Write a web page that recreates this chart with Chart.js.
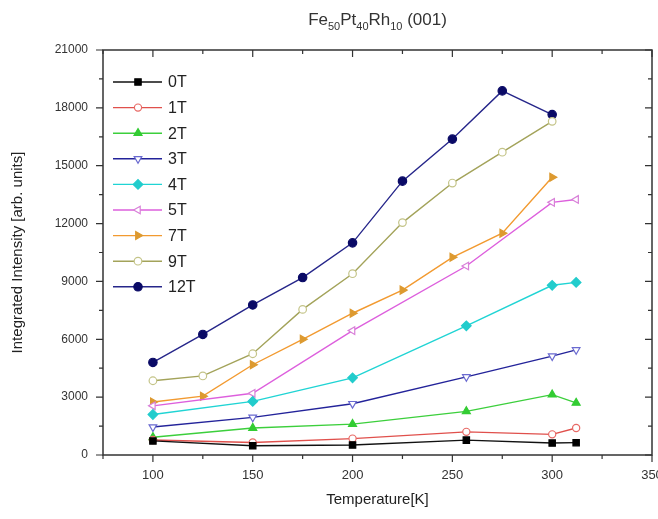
<!DOCTYPE html>
<html><head><meta charset="utf-8">
<script src="https://cdn.jsdelivr.net/npm/chart.js@4/dist/chart.umd.min.js"></script>
<style>html,body{margin:0;padding:0;background:#fff}</style>
</head><body>
<canvas id="c" width="658" height="519"></canvas>
<script>
// ---- data ----
const seriesLabels = ['0T','1T','2T','3T','4T','5T','7T','9T','12T'];
const tempsLow  = [100,150,200,257,300,312];
const tempsHigh = [100,125,150,175,200,225,250,275,300];
const v0T  = [730,480,520,770,620,640];
const v1T  = [780,650,850,1200,1070,1400];
const v2T  = [920,1400,1600,2260,3130,2700];
const v3T  = [1450,1950,2660,4050,5130,5450];
const v4T  = [2100,2780,4000,6700,8800,8950];
const v5T  = [2550,3200,6450,9800,13100,13250];
const v7T  = [2750,3050,4680,6000,7350,8550,10250,11500,14400];
const v9T  = [3850,4100,5250,7550,9400,12050,14100,15700,17300];
const v12T = [4800,6250,7780,9200,11000,14200,16380,18880,17650];
const xTicks = [100,150,200,250,300,350];
const yTicks = [0,3000,6000,9000,12000,15000,18000,21000];

const FONT = "'Liberation Sans', Arial, sans-serif";
const pts = (xs, ys) => xs.map((x, i) => ({x, y: ys[i]}));

const styles = [
  {line:'#111111', fill:'#000000', stroke:'#000000', ps:'rect', rot:0, r:4.5},
  {line:'#e0504c', fill:'#ffffff', stroke:'#e86a66', ps:'circle', rot:0, r:3.6},
  {line:'#3ccf3c', fill:'#33cc33', stroke:'#33cc33', ps:'triangle', rot:0, r:4.6},
  {line:'#23239a', fill:'#ffffff', stroke:'#6a6ad0', ps:'triangle', rot:180, r:4.4},
  {line:'#20d4d4', fill:'#22cccc', stroke:'#22cccc', ps:'rectRot', rot:0, r:4.8},
  {line:'#dd5fdd', fill:'#ffffff', stroke:'#d880d8', ps:'triangle', rot:270, r:4.4},
  {line:'#f29a30', fill:'#dd9a30', stroke:'#dd9a30', ps:'triangle', rot:90, r:4.6},
  {line:'#a3a35a', fill:'#ffffff', stroke:'#c4c488', ps:'circle', rot:0, r:3.8},
  {line:'#26268a', fill:'#0a0a66', stroke:'#0a0a66', ps:'circle', rot:0, r:4.2}
];
const seriesData = [
  pts(tempsLow, v0T), pts(tempsLow, v1T), pts(tempsLow, v2T), pts(tempsLow, v3T),
  pts(tempsLow, v4T), pts(tempsLow, v5T), pts(tempsHigh, v7T), pts(tempsHigh, v9T),
  pts(tempsHigh, v12T)
];

const datasets = seriesLabels.map((lab, i) => ({
  label: lab,
  data: seriesData[i],
  borderColor: styles[i].line,
  borderWidth: 1.4,
  pointStyle: styles[i].ps,
  pointRotation: styles[i].rot,
  pointRadius: styles[i].r,
  pointBackgroundColor: styles[i].fill,
  pointBorderColor: styles[i].stroke,
  pointBorderWidth: 1.2,
  tension: 0,
  fill: false
}));

function drawMarker(ctx, st, x, y) {
  ctx.save();
  ctx.fillStyle = st.fill; ctx.strokeStyle = st.stroke; ctx.lineWidth = 1.2;
  if (Chart.helpers && Chart.helpers.drawPoint) {
    Chart.helpers.drawPoint(ctx, {pointStyle: st.ps, rotation: st.rot, radius: st.r, borderWidth: 1.2}, x, y);
  } else {
    ctx.beginPath(); ctx.arc(x, y, st.r, 0, Math.PI*2); ctx.fill(); ctx.stroke();
  }
  ctx.restore();
}

const framePlugin = {
  id: 'frame',
  afterDraw(chart) {
    const ctx = chart.ctx;
    const {left, right, top, bottom} = chart.chartArea;
    const xs = chart.scales.x, ys = chart.scales.y;
    ctx.save();
    ctx.strokeStyle = '#333';
    ctx.lineWidth = 1.5;
    ctx.strokeRect(left, top, right - left, bottom - top);
    ctx.lineWidth = 1.2;
    const major = 7, minor = 4;
    const xMinor = [];
    xTicks.forEach((t, i) => { const h = i > 0 ? (xTicks[i-1] + t) / 2 : t - (xTicks[1]-xTicks[0]) / 2; xMinor.push(h); });
    const yMinor = [];
    yTicks.forEach((t, i) => { if (i > 0) yMinor.push((yTicks[i-1] + t) / 2); });
    ctx.beginPath();
    const xt = (v, len) => { const p = xs.getPixelForValue(v); if (p < left - 0.5 || p > right + 0.5) return;
      ctx.moveTo(p, bottom); ctx.lineTo(p, bottom + len); ctx.moveTo(p, top); ctx.lineTo(p, top + len); };
    const yt = (v, len) => { const p = ys.getPixelForValue(v);
      ctx.moveTo(left, p); ctx.lineTo(left - len, p); ctx.moveTo(right, p); ctx.lineTo(right - len, p); };
    xTicks.forEach(v => xt(v, major)); xMinor.forEach(v => xt(v, minor));
    yTicks.forEach(v => yt(v, major)); yMinor.forEach(v => yt(v, minor));
    ctx.stroke();

    // legend
    const lx0 = left + 10, lx1 = left + 59, mx = left + 35, tx = left + 65;
    const ly0 = top + 32, dy = 25.6;
    ctx.font = '16px ' + FONT;
    ctx.textBaseline = 'middle';
    ctx.textAlign = 'left';
    seriesLabels.forEach((lab, i) => {
      const y = ly0 + i * dy;
      ctx.strokeStyle = styles[i].line; ctx.lineWidth = 1.4;
      ctx.beginPath(); ctx.moveTo(lx0, y); ctx.lineTo(lx1, y); ctx.stroke();
      drawMarker(ctx, styles[i], mx, y);
      ctx.fillStyle = '#222';
      ctx.fillText(lab, tx, y + 1);
    });

    // title with subscripts
    const parts = [['Fe',0],['50',1],['Pt',0],['40',1],['Rh',0],['10',1],[' (001)',0]];
    const big = '17px ' + FONT, small = '11px ' + FONT;
    let w = 0;
    parts.forEach(p => { ctx.font = p[1] ? small : big; w += ctx.measureText(p[0]).width; });
    let x = (left + right) / 2 - w / 2;
    const ty = 20;
    ctx.fillStyle = '#333';
    ctx.textBaseline = 'middle';
    parts.forEach(p => {
      ctx.font = p[1] ? small : big;
      ctx.fillText(p[0], x, p[1] ? ty + 7 : ty);
      x += ctx.measureText(p[0]).width;
    });
    ctx.restore();
  }
};

new Chart(document.getElementById('c'), {
  type: 'line',
  data: { datasets },
  options: {
    responsive: false,
    animation: false,
    layout: { padding: { top: 50, right: 6, bottom: 0, left: 0 } },
    plugins: { legend: { display: false }, tooltip: { enabled: false }, title: { display: false } },
    scales: {
      x: {
        type: 'linear', min: 75, max: 350,
        grid: { display: false },
        border: { display: false },
        ticks: { color: '#333', font: { family: FONT, size: 13 }, padding: 5, maxRotation: 0, autoSkip: false,
                 callback: v => String(v) },
        afterBuildTicks: s => { s.ticks = xTicks.map(v => ({value: v})); },
        afterFit: s => { s.height = 64; s.paddingRight = 0; s.paddingLeft = 0; },
        title: { display: true, text: 'Temperature[K]', color: '#222', font: { family: FONT, size: 15 }, padding: { top: 0, bottom: 10 } }
      },
      y: {
        type: 'linear', min: 0, max: 21000,
        grid: { display: false },
        border: { display: false },
        ticks: { color: '#333', font: { family: FONT, size: 12 }, padding: 7, autoSkip: false,
                 callback: v => String(v) },
        afterBuildTicks: s => { s.ticks = yTicks.map(v => ({value: v})); },
        afterFit: s => { s.width = 103; s.paddingTop = 0; s.paddingBottom = 0; },
        title: { display: true, text: 'Integrated Intensity [arb. units]', color: '#222', font: { family: FONT, size: 15 }, padding: { top: 9, bottom: 0 } }
      }
    }
  },
  plugins: [framePlugin]
});
</script>
</body></html>
